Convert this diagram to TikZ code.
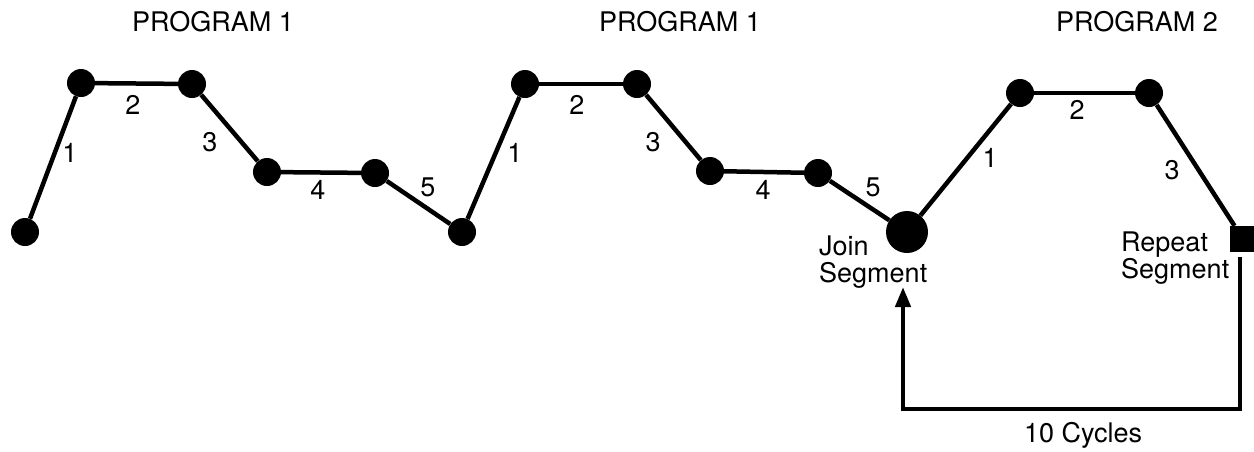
\documentclass[tikz,border=0pt]{standalone}
\usepackage{fontspec}
\setmainfont{TeX Gyre Heros}
\usetikzlibrary{arrows.meta}
\begin{document}
\begin{tikzpicture}[x=1pt,y=-1pt,
  pt/.style={circle,fill=black,inner sep=0pt,minimum size=28pt},
  bigpt/.style={circle,fill=black,inner sep=0pt,minimum size=42pt},
  sqpt/.style={rectangle,fill=black,inner sep=0pt,minimum size=26pt},
  seg/.style={line width=4.5pt},
  lbl/.style={font=\fontsize{27}{27}\selectfont,inner sep=0pt},
  txt/.style={font=\fontsize{27}{26.5}\selectfont,inner sep=0pt,align=left}]
\useasboundingbox (0,0) rectangle (1254,451);
% titles
\node[lbl] (t1) at (213,22) {PROGRAM 1};
\node[lbl] (t2) at (680,22) {PROGRAM 1};
\node[lbl] (t3) at (1137,22) {PROGRAM 2};
% points
\node[pt] (p0) at (25,232) {};
\node[pt] (p1) at (81,83) {};
\node[pt] (p2) at (192,84) {};
\node[pt] (p3) at (267,172) {};
\node[pt] (p4) at (375,173) {};
\node[pt] (p5) at (462,232) {};
\node[pt] (p6) at (525,84) {};
\node[pt] (p7) at (637,84) {};
\node[pt] (p8) at (710,171) {};
\node[pt] (p9) at (818,173) {};
\node[bigpt] (j) at (907,232) {};
\node[pt] (p10) at (1020,93) {};
\node[pt] (p11) at (1149,93) {};
\node[sqpt] (sq) at (1243,239) {};
% segments
\draw[seg] (p0) -- (p1);
\draw[seg] (p1) -- (p2);
\draw[seg] (p2) -- (p3);
\draw[seg] (p3) -- (p4);
\draw[seg] (p4) -- (p5);
\draw[seg] (p5) -- (p6);
\draw[seg] (p6) -- (p7);
\draw[seg] (p7) -- (p8);
\draw[seg] (p8) -- (p9);
\draw[seg] (p9) -- (j);
\draw[seg] (j) -- (p10);
\draw[seg] (p10) -- (p11);
\draw[seg] (p11) -- (sq);
% segment labels
\node[lbl] (a1) at (70,153) {1};
\node[lbl] (a2) at (133,105) {2};
\node[lbl] (a3) at (210,142) {3};
\node[lbl] (a4) at (318,190) {4};
\node[lbl] (a5) at (428,187) {5};
\node[lbl] (b1) at (515,153) {1};
\node[lbl] (b2) at (577,105) {2};
\node[lbl] (b3) at (653,142) {3};
\node[lbl] (b4) at (763,190) {4};
\node[lbl] (b5) at (873,187) {5};
\node[lbl] (c1) at (990,158) {1};
\node[lbl] (c2) at (1077,110) {2};
\node[lbl] (c3) at (1172,170) {3};
% texts
\node[txt,anchor=base west] (jt) at (819,282) {Join\\Segment};
\node[txt,anchor=base west] (rt) at (1121,278) {Repeat\\Segment};
% loop arrow
\coordinate (rs) at (1240,257);
\coordinate (js) at (903,287);
\draw[seg,-{Triangle[length=20pt,width=15pt]}] (rs) |- (1071,409) -| (js);
\node[lbl,anchor=base] (cy) at (1083,442) {10 Cycles};
\end{tikzpicture}
\end{document}
